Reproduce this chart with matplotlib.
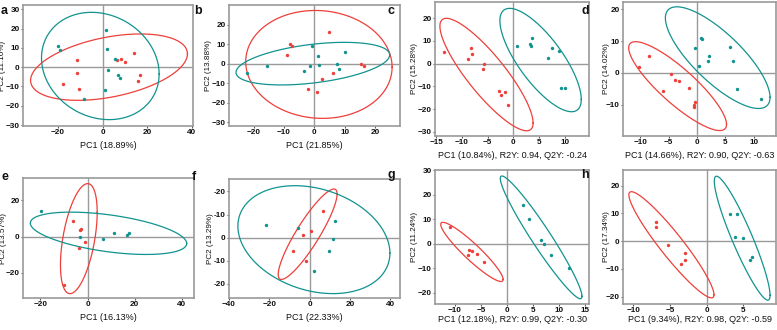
import numpy as np
import matplotlib
matplotlib.use('Agg')
import matplotlib.pyplot as plt

plt.rcParams['font.family'] = ['Liberation Sans', 'DejaVu Sans']

RED = '#EE3F3A'
TEAL = '#11938F'
GRAY = '#9a9a9a'

# ---------------- data ----------------
panel_letters = ['a', 'b', 'c', 'd', 'e', 'f', 'g', 'h']
x_labels = ['PC1 (18.89%)', 'PC1 (21.85%)', 'PC1 (10.84%), R2Y: 0.94, Q2Y: -0.24',
            'PC1 (14.66%), R2Y: 0.90, Q2Y: -0.63', 'PC1 (16.13%)', 'PC1 (22.33%)',
            'PC1 (12.18%), R2Y: 0.99, Q2Y: -0.30', 'PC1 (9.34%), R2Y: 0.98, Q2Y: -0.59']
y_labels = ['PC2 (11.16%)', 'PC2 (13.88%)', 'PC2 (15.28%)', 'PC2 (14.02%)',
            'PC2 (13.57%)', 'PC2 (13.29%)', 'PC2 (11.24%)', 'PC2 (17.34%)']

a_red_x = [-11.6, -11.3, -17.6, -10.4, 6.5, 8.3, 10.2, 14.3, 16.8, 16.1]
a_red_y = [3.8, -3.1, -8.6, -11.4, 3.8, 4.3, 2.6, 7.4, -4.3, -7.1]
a_teal_x = [-20.2, -19.2, 1.7, 2.0, 5.4, 2.3, 6.8, 8.0, 0.9, -8.4]
a_teal_y = [10.7, 9.1, 19.0, 9.5, 4.1, -1.4, -4.3, -5.7, -11.7, -16.7]

b_red_x = [-7.9, -7.3, -9.0, 4.7, 2.6, -2.0, 1.0, 6.0, 15.2, 16.3]
b_red_y = [10.1, 9.2, 4.4, 16.4, -8.0, -13.1, -14.5, -4.8, 0.0, -1.2]
b_teal_x = [-22.1, -15.5, -1.4, -3.4, -0.8, 1.3, 1.5, 7.6, 8.0, 10.0]
b_teal_y = [-4.6, -1.0, -1.0, -3.9, 9.0, 3.8, -0.5, 0.0, -2.7, 5.8]

c_red_x = [-13.5, -8.3, -7.95, -8.7, -5.6, -5.9, -2.8, -2.4, -1.7, -0.97]
c_red_y = [5.0, 7.1, 4.3, 1.9, 0.0, -2.5, -12.1, -14.0, -12.5, -18.2]
c_teal_x = [0.8, 3.3, 3.35, 3.6, 6.7, 7.6, 8.8, 9.3, 10.1]
c_teal_y = [7.6, 8.8, 7.8, 11.2, 2.4, 7.0, 5.7, -10.6, -10.6]

d_red_x = [-10.2, -8.5, -4.6, -3.9, -3.2, -6.0, -1.4, -0.35, -0.47, -0.53]
d_red_y = [1.8, 5.4, -0.4, -2.2, -2.4, -5.5, -4.6, -9.2, -9.9, -10.7]
d_teal_x = [-0.35, 0.8, 0.9, 0.4, 2.0, 2.2, 5.8, 6.3, 7.0, 11.3]
d_teal_y = [7.8, 11.0, 10.5, 2.3, 3.9, 5.3, 8.1, 3.6, -5.1, -8.2]

e_red_x = [-6.1, -3.3, -2.7, -1.0, -3.8, -10.1]
e_red_y = [8.9, 3.9, 4.3, -2.8, -6.3, -26.5]
e_teal_x = [-19.6, -3.3, 6.7, 11.2, 16.9, 17.4]
e_teal_y = [14.4, -0.4, -1.1, 1.9, 1.1, 1.9]

f_red_x = [6.7, 0.5, -3.4, -8.4, -1.8]
f_red_y = [11.7, 2.9, 1.3, -5.9, -10.0]
f_teal_x = [-21.6, -5.7, 12.8, 11.6, 9.7, 2.1]
f_teal_y = [5.4, 4.3, 7.4, -0.7, -5.9, -14.6]

g_red_x = [-11.0, -7.2, -7.4, -6.6, -5.7, -4.3]
g_red_y = [6.7, -2.4, -4.5, -3.1, -4.2, -7.5]
g_teal_x = [3.1, 4.2, 6.6, 7.2, 8.5, 12.0]
g_teal_y = [15.9, 10.2, 1.6, 0.0, -4.5, -9.9]

h_red_x = [-6.9, -6.9, -5.3, -2.9, -2.9, -3.5]
h_red_y = [6.8, 5.0, -1.4, -4.2, -6.9, -8.2]
h_teal_x = [3.2, 4.2, 3.8, 5.0, 6.2, 5.95]
h_teal_y = [9.9, 9.7, 1.6, 1.3, -5.6, -6.7]

# ellipses: (cx, cy, half-range x, half-range y, tilt correlation)
a_red_ell = (2.9, 0.0, 35.2, 17.2, 0.40)
a_teal_ell = (-1.0, 0.6, 26.4, 27.8, -0.15)
b_red_ell = (1.5, -0.4, 24.1, 27.6, -0.05)
b_teal_ell = (-0.5, 0.0, 25.3, 10.9, 0.41)
c_red_ell = (-5.2, -4.8, 9.05, 24.8, -0.86)
c_teal_ell = (5.3, 1.6, 7.9, 22.8, -0.76)
d_red_ell = (-3.4, -4.1, 8.6, 13.9, -0.86)
d_teal_ell = (3.65, 4.8, 9.2, 15.9, -0.78)
e_red_ell = (-3.7, -1.1, 7.8, 30.4, 0.48)
e_teal_ell = (8.9, 1.85, 33.2, 11.7, -0.48)
f_red_ell = (-1.0, 1.45, 14.6, 19.6, 0.89)
f_teal_ell = (2.1, -0.9, 37.7, 23.4, -0.25)
g_red_ell = (-6.7, -3.3, 6.0, 12.1, -0.93)
g_teal_ell = (6.6, 2.65, 7.85, 25.1, -0.96)
h_red_ell = (-4.8, -1.3, 5.8, 19.1, -0.94)
h_teal_ell = (4.84, 1.07, 3.8, 22.3, -0.92)

x_ticks = [[-20, 0, 20, 40], [-20, -10, 0, 10, 20], [-15, -10, -5, 0, 5, 10], [-10, -5, 0, 5, 10],
           [-20, 0, 20, 40], [-40, -20, 0, 20, 40], [-10, -5, 0, 5, 10, 15], [-10, -5, 0, 5]]
y_ticks = [[-30, -20, -10, 0, 10, 20, 30], [-30, -20, -10, 0, 10, 20], [-30, -20, -10, 0, 10, 20],
           [-10, 0, 10, 20], [-20, 0, 20], [20, 10, 0, -10, -20], [-20, -10, 0, 10, 20, 30],
           [-20, -10, 0, 10, 20]]
f_y_ticklabels = ['-20', '-10', '0', '-10', '-20']
x_lims = [(-35.7, 40.6), (-28.1, 28.2), (-15.2, 14.7), (-13.0, 13.9),
          (-27.4, 45.2), (-39.2, 44.8), (-13.8, 15.8), (-11.4, 9.45)]
y_lims = [(-30.5, 32.2), (-31.9, 30.0), (-31.9, 27.2), (-19.7, 22.2),
          (-33.9, 32.4), (-26.2, 25.4), (-24.6, 30.2), (-22.6, 25.6)]

reds = [(a_red_x, a_red_y), (b_red_x, b_red_y), (c_red_x, c_red_y), (d_red_x, d_red_y),
        (e_red_x, e_red_y), (f_red_x, f_red_y), (g_red_x, g_red_y), (h_red_x, h_red_y)]
teals = [(a_teal_x, a_teal_y), (b_teal_x, b_teal_y), (c_teal_x, c_teal_y), (d_teal_x, d_teal_y),
         (e_teal_x, e_teal_y), (f_teal_x, f_teal_y), (g_teal_x, g_teal_y), (h_teal_x, h_teal_y)]
red_ells = [a_red_ell, b_red_ell, c_red_ell, d_red_ell, e_red_ell, f_red_ell, g_red_ell, h_red_ell]
teal_ells = [a_teal_ell, b_teal_ell, c_teal_ell, d_teal_ell, e_teal_ell, f_teal_ell, g_teal_ell, h_teal_ell]

# ---------------- layout (pixels) ----------------
W, H = 777, 330
boxes = [(23, 193, 5, 126), (229, 400, 5, 126), (435, 589, 2, 136), (623, 776, 2, 136),
         (23, 194, 178, 298), (229, 400, 179, 298), (435, 589, 170, 304), (623, 776, 170, 304)]
ylab_x = [3, 209, 415, 606, 4, 210, 415, 606]
xlab_y = [145, 145, 155, 155, 317, 317, 320, 320]
letter_pos = [(1, 5), (194, 5), (387, 5), (581, 5), (1, 171), (192, 171), (387, 169), (581, 169)]

fig = plt.figure(figsize=(W / 100, H / 100), dpi=100)


def ellipse_xy(p):
    cx, cy, rx, ry, rho = p
    t = np.linspace(0, 2 * np.pi, 300)
    return cx + rx * np.cos(t), cy + ry * (rho * np.cos(t) + np.sqrt(1 - rho ** 2) * np.sin(t))


for i in range(8):
    l, r, t, b = boxes[i]
    ax = fig.add_axes([l / W, 1 - b / H, (r - l) / W, (b - t) / H])
    ax.set_xlim(*x_lims[i])
    ax.set_ylim(*y_lims[i])
    ax.axhline(0, color=GRAY, lw=1.0, zorder=1)
    ax.axvline(0, color=GRAY, lw=1.0, zorder=1)
    ex, ey = ellipse_xy(red_ells[i])
    ax.plot(ex, ey, color=RED, lw=0.9, zorder=2)
    ex, ey = ellipse_xy(teal_ells[i])
    ax.plot(ex, ey, color=TEAL, lw=0.9, zorder=2)
    ax.scatter(*reds[i], s=6, color=RED, linewidths=0, zorder=3)
    ax.scatter(*teals[i], s=6, color=TEAL, linewidths=0, zorder=3)
    ax.set_xticks(x_ticks[i])
    ax.set_yticks(y_ticks[i])
    if i == 5:
        ax.set_yticklabels(f_y_ticklabels)
    for sp in ax.spines.values():
        sp.set_color(GRAY)
        sp.set_linewidth(1.2)
    ax.tick_params(length=1.6, width=0.8, color='#555555', pad=0.8, labelsize=5.9,
                   labelcolor='#111111')
    for lab in ax.get_xticklabels() + ax.get_yticklabels():
        lab.set_fontweight('bold')
    ax.set_xlabel(x_labels[i], fontsize=6.5, color='#111111', va='center')
    ax.set_ylabel(y_labels[i], fontsize=5.9, color='#111111', va='center')
    ax.xaxis.set_label_coords(0.5, (b - xlab_y[i]) / (b - t))
    ax.yaxis.set_label_coords((ylab_x[i] - l) / (r - l), 0.5)
    lx, ly = letter_pos[i]
    fig.text(lx / W, 1 - ly / H, panel_letters[i], fontsize=9, fontweight='bold',
             va='top', ha='left', color='#111111')

fig.savefig('out.png', dpi=100)
